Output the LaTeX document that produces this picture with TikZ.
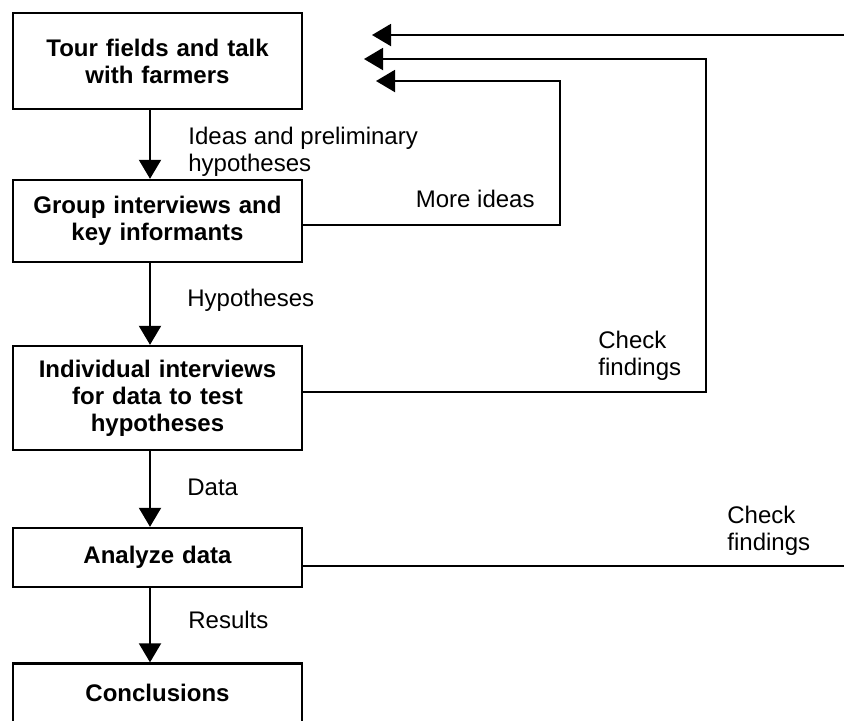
\documentclass[tikz,border=0pt]{standalone}
\usepackage{fontspec}
\setmainfont{Liberation Sans}
\usetikzlibrary{arrows.meta}

\begin{document}
\begin{tikzpicture}[x=0.5pt,y=-0.5pt,>={Triangle[length=9.5pt,width=11pt]},
    every node/.style={font=\fontsize{12}{13.5}\selectfont, inner sep=0pt},
    stage/.style={draw, line width=1.2pt, minimum width=144.5pt, text width=140pt, align=center, font=\fontsize{12}{13.5}\selectfont\bfseries},
    lbl/.style={align=left},
    back/.style={line width=1pt}]
    \clip (0,0) rectangle (844,720);

    \node[stage, minimum height=48pt] (tour) at (157.5,61) {Tour fields and talk\\with farmers};
    \node[stage, minimum height=41pt] (group) at (157.5,221) {Group interviews and\\key informants};
    \node[stage, minimum height=52pt] (indiv) at (157.5,398) {Individual interviews\\for data to test\\hypotheses};
    \node[stage, minimum height=29.5pt] (analyze) at (157.5,557.5) {Analyze data};
    \node[stage, minimum height=29.5pt] (concl) at (157.5,693) {Conclusions};

    \coordinate (spine) at (150,0);
    \draw[->, line width=1pt] (spine |- tour.south) -- (spine |- group.north);
    \draw[->, line width=1pt] (spine |- group.south) -- (spine |- indiv.north);
    \draw[->, line width=1pt] (spine |- indiv.south) -- (spine |- analyze.north);
    \draw[->, line width=1pt] (spine |- analyze.south) -- (spine |- concl.north);

    \node[lbl, anchor=west] (ideas) at (188,152) {Ideas and preliminary\\hypotheses};
    \node[lbl, anchor=west] (hyp) at (187,300) {Hypotheses};
    \node[lbl, anchor=west] (data) at (187,487) {Data};
    \node[lbl, anchor=west] (res) at (188,620) {Results};

    % feedback loops
    \coordinate (tipA) at (372,35);
    \coordinate (tipB) at (364,59);
    \coordinate (tipC) at (376,81);
    \coordinate (turnB) at (706,59);
    \coordinate (turnC) at (560,81);
    \coordinate (edgeA) at (850,35);
    \coordinate (edgeB) at (850,0);

    \draw[->, back] ([yshift=-2pt]group.east) -| (turnC) -- (tipC);
    \draw[->, back] ([yshift=3pt]indiv.east) -| (turnB) -- (tipB);
    \draw[->, back] (edgeA) -- (tipA);
    \draw[back] ([yshift=-4pt]analyze.east) -- ([yshift=-4pt]analyze.east -| edgeB);

    \node[anchor=east] (more) at (535,199) {More ideas};
    \node[lbl, anchor=west] (checkA) at (598,356) {Check\\findings};
    \node[lbl, anchor=west] (checkB) at (727,531) {Check\\findings};
\end{tikzpicture}
\end{document}
